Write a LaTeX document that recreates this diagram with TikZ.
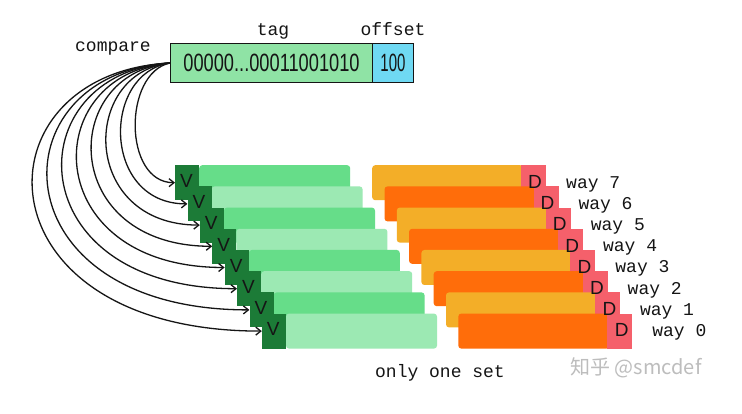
\documentclass[tikz,border=0pt]{standalone}
\usepackage{fontspec}
\setmainfont{Liberation Sans}
\newfontfamily\handmono{Liberation Mono}
\newfontfamily\handnum[FakeStretch=0.73]{Liberation Sans}
\newfontfamily\handnarrow[FakeStretch=0.6]{Liberation Sans}
\newfontfamily\cjkfont{Noto Sans CJK SC}
\usetikzlibrary{arrows.meta}
\definecolor{tagcol}{HTML}{8FE3A5}
\definecolor{offcol}{HTML}{6FD9F3}
\definecolor{vcol}{HTML}{1C7B37}
\definecolor{gA}{HTML}{66DD89}
\definecolor{gB}{HTML}{9CE9B3}
\definecolor{oA}{HTML}{F3AE28}
\definecolor{oB}{HTML}{FF6D0A}
\definecolor{dcol}{HTML}{F5606B}
\definecolor{inkc}{HTML}{151515}
\definecolor{wmark}{HTML}{BDBDBD}
\begin{document}
\begin{tikzpicture}[x=1pt,y=-1pt,
  field/.style={draw=inkc,line width=1pt,inner sep=0pt,anchor=north west,minimum height=39pt},
  gbar/.style={inner sep=0pt,anchor=north west,minimum width=151pt,minimum height=35pt,rounded corners=3pt},
  vbox/.style={fill=vcol,inner sep=0pt,anchor=north west,minimum width=24pt,minimum height=35pt},
  dbox/.style={fill=dcol,inner sep=0pt,anchor=north west,minimum width=25pt,minimum height=35pt},
  letter/.style={font=\fontsize{19}{19}\selectfont,text=inkc,inner sep=0pt},
  hand/.style={font=\handmono\fontsize{18}{18}\selectfont,text=inkc,inner sep=0pt},
  cmp/.style={line width=1.3pt,draw=inkc,-{Straight Barb[length=5pt,width=8pt]}}
]
\useasboundingbox (0,0) rectangle (742,414);
\fill[white] (0,0) rectangle (742,414);

% address fields
\node[field,fill=tagcol,minimum width=202pt,font=\handnum\fontsize{25}{25}\selectfont,text=inkc] (tag) at (170,43) {00000...00011001010};
\node[field,fill=offcol,minimum width=41pt,font=\handnarrow\fontsize{25}{25}\selectfont,text=inkc] (off) at (372,43) {100};
\node[hand] (taglbl) at (273,31) {tag};
\node[hand] (offlbl) at (393,29) {offset};
\node[hand] (cmplbl) at (113,49) {compare};

% tag rows (green)
\foreach \i/\bc in {0/gA,1/gB,2/gA,3/gB,4/gA,5/gB,6/gA,7/gB}{
  \node[gbar,fill=\bc] (gb\i) at ({199+12.4*\i},{165+21.2*\i}) {};
  \node[vbox] (v\i) at ({175+12.4*\i},{165+21.2*\i}) {};
}
\foreach \i in {0,...,7}{
  \node[letter] (vl\i) at ({186.5+12.4*\i},{181+21.2*\i}) {V};
}

% data rows (orange)
\foreach \j/\bc in {0/oA,1/oB,2/oA,3/oB,4/oA,5/oB,6/oA,7/oB}{
  \node[gbar,fill=\bc] (ob\j) at ({372+12.3*\j},{165+21.2*\j}) {};
  \node[dbox] (d\j) at ({521+12.3*\j},{165+21.2*\j}) {};
}
\foreach \j in {0,...,7}{
  \node[letter] (dl\j) at ({535+12.4*\j},{182+21.2*\j}) {D};
  \pgfmathtruncatemacro\w{7-\j}
  \node[hand,anchor=west] (way\j) at ({566+12.3*\j},{184+21.2*\j}) {way \w};
}

% compare arrows
\foreach \i in {0,...,7}{
  \draw[cmp] (tag.west) .. controls ({123-21.4*\i},73) and ({123-21.4*\i},{182.5+21.2*\i}) .. (v\i.west);
}

\node[hand] (setlbl) at (440,373) {only one set};
\node[font=\cjkfont\fontsize{20}{20}\selectfont,text=wmark,inner sep=0pt] (wm) at (636,368) {知乎 @smcdef};
\end{tikzpicture}
\end{document}
